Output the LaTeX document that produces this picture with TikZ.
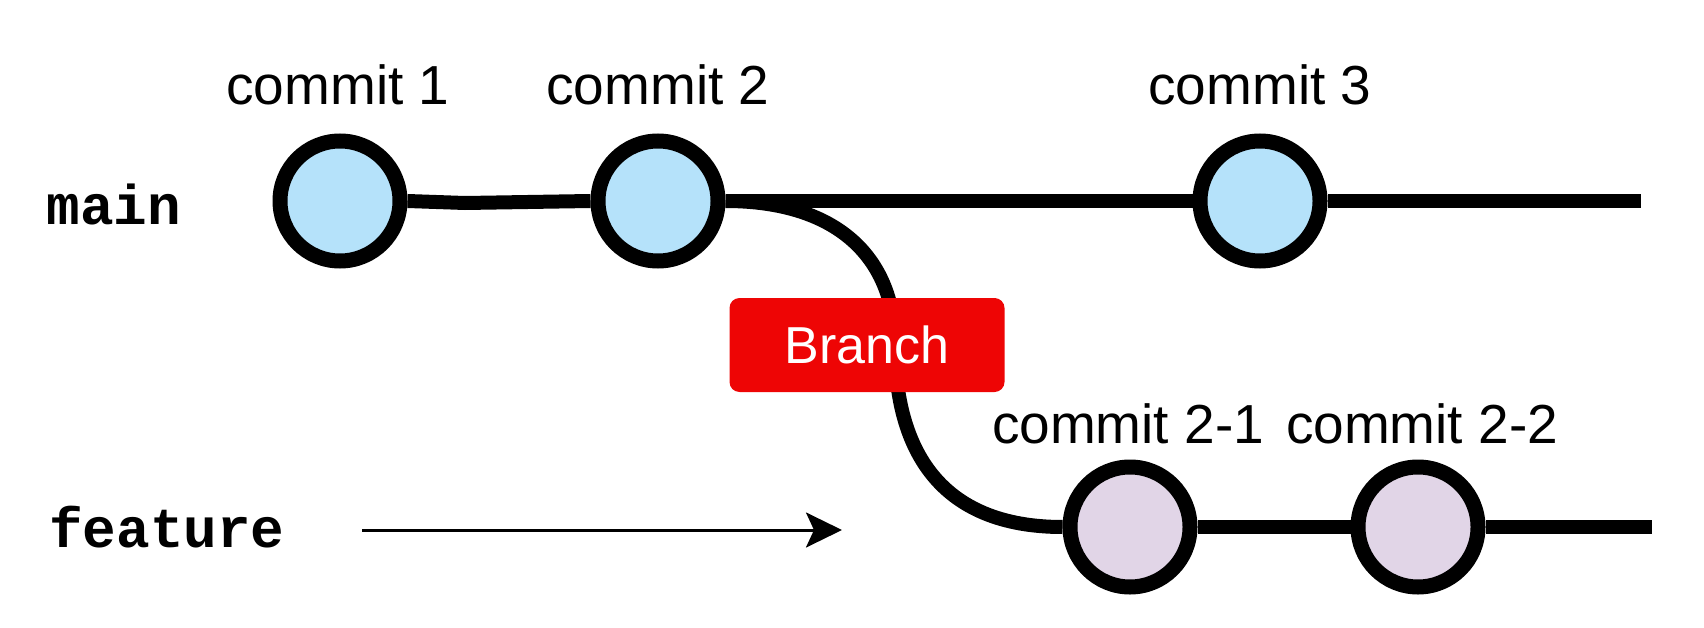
\documentclass[tikz,border=0pt]{standalone}
\usepackage{fontspec}
\setmainfont{Liberation Sans}
\setmonofont{Liberation Mono}
\usetikzlibrary{arrows.meta}
\definecolor{mainblue}{HTML}{B5E2FA}
\definecolor{featpurple}{HTML}{E1D5E7}
\definecolor{branchred}{HTML}{EE0505}
\tikzset{
  commitmain/.style={circle, draw=black, line width=15pt, fill=mainblue, minimum size=120pt, inner sep=0pt},
  commitfeat/.style={circle, draw=black, line width=15pt, fill=featpurple, minimum size=120pt, inner sep=0pt},
  gitline/.style={line width=14pt, draw=black},
  clabel/.style={font=\fontsize{55}{61}\selectfont, inner sep=0pt},
  blabel/.style={font=\ttfamily\bfseries\fontsize{56}{62}\selectfont, inner sep=0pt},
  branchbox/.style={fill=branchred, rounded corners=10pt, minimum width=275pt, minimum height=94pt, inner sep=0pt, text=white, font=\fontsize{52}{58}\selectfont}
}
\begin{document}
\begin{tikzpicture}[x=1pt,y=-1pt]
\useasboundingbox (0,0) rectangle (1704,628);
% labels
\node[blabel] (lmain) at (114,204) {main};
\node[blabel] (lfeat) at (167,527) {feature};
\node[clabel] (t1) at (338,85) {commit 1};
\node[clabel] (t2) at (658,85) {commit 2};
\node[clabel] (t3) at (1260,85) {commit 3};
\node[clabel] (t21) at (1128,424) {commit 2-1};
\node[clabel] (t22) at (1422,424) {commit 2-2};
% coordinates
\coordinate (kink) at (465,203);
\coordinate (mainend) at (1641,201);
\coordinate (featend) at (1652,527);
\coordinate (bp) at (895,345);
\coordinate (as) at (362,530);
\coordinate (ae) at (842,530);
% commits
\node[commitmain] (c1) at (340,201) {};
\node[commitmain] (c2) at (658,201) {};
\node[commitmain] (c3) at (1260,201) {};
\node[commitfeat] (c21) at (1130,527) {};
\node[commitfeat] (c22) at (1418,527) {};
% lines
\draw[gitline] (c1.east) -- (kink) -- (c2.west);
\draw[gitline] (c2.east) -- (c3.west);
\draw[gitline] (c3.east) -- (mainend);
\draw[gitline] (c2.east) .. controls (840,201) and (895,260) .. (bp)
  .. controls (895,450) and (940,527) .. (c21.west);
\draw[gitline] (c21.east) -- (c22.west);
\draw[gitline] (c22.east) -- (featend);
% branch box
\node[branchbox] (branch) at (867,345) {Branch};
% arrow
\draw[line width=3pt, -{Stealth[length=36pt, width=35pt, inset=8pt]}] (as) -- (ae);
\end{tikzpicture}
\end{document}
